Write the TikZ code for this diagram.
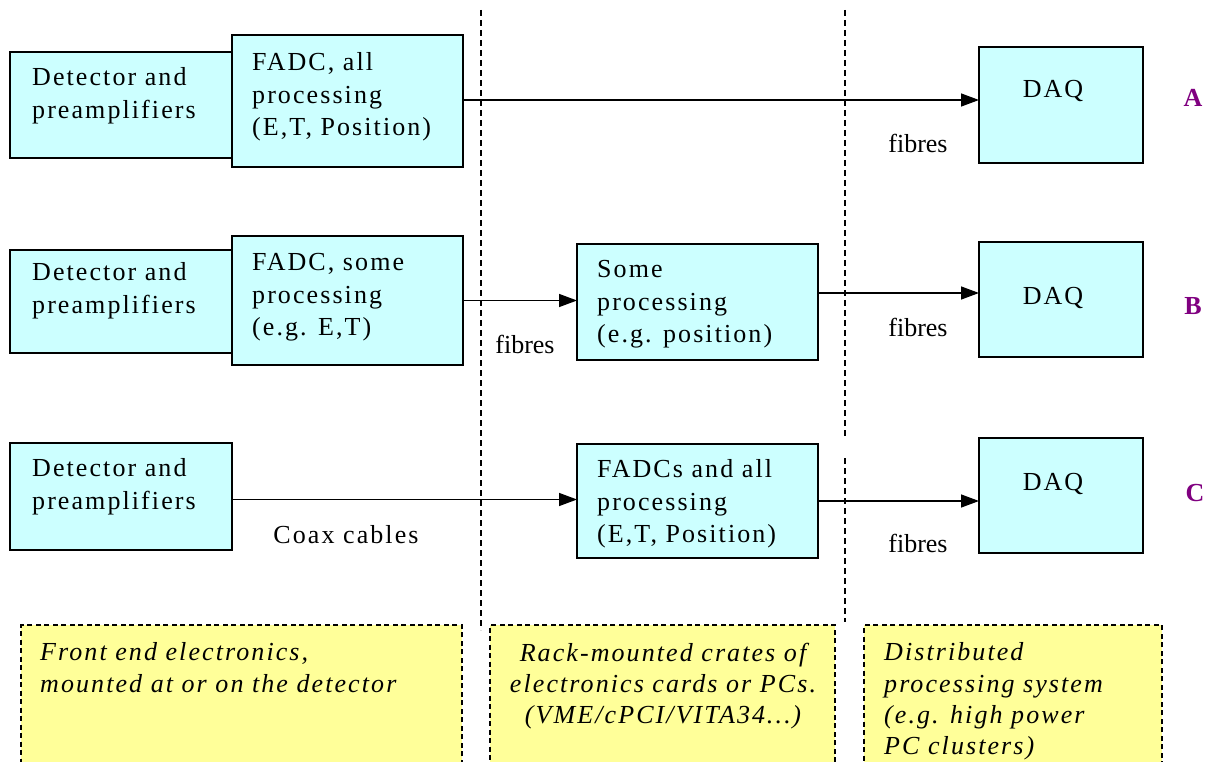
\documentclass[tikz,border=0pt]{standalone}
\usepackage{fontspec}
\setmainfont{Liberation Serif}
\newfontfamily\spaced{Liberation Serif}[LetterSpace=8]
\usetikzlibrary{arrows.meta}
\definecolor{boxcyan}{RGB}{204,255,255}
\definecolor{noteyellow}{RGB}{255,255,153}
\definecolor{rowpurple}{RGB}{128,0,128}
\begin{document}
\begin{tikzpicture}[x=1pt,y=-1pt,
  box/.style={draw=black, line width=1.3pt, fill=boxcyan, inner sep=0pt, outer sep=0pt, anchor=north west},
  notebox/.style={draw=black, line width=1.2pt, dash pattern=on 5pt off 3.5pt, fill=noteyellow, inner sep=0pt, outer sep=0pt, anchor=north west},
  txt/.style={anchor=north west, inner sep=0pt, align=left, font=\spaced\fontsize{26}{32.5}\selectfont},
  notetxt/.style={anchor=north west, inner sep=0pt, align=left, font=\spaced\itshape\fontsize{26}{31.3}\selectfont},
  lbl/.style={inner sep=0pt, font=\fontsize{26}{30}\selectfont},
  rowlbl/.style={inner sep=0pt, text=rowpurple, font=\bfseries\fontsize{26}{30}\selectfont},
  sep/.style={draw=black, line width=1.2pt, dash pattern=on 6pt off 4pt},
  arr/.style={draw=black, line width=1.4pt, -{Triangle[length=18pt, width=13pt]}}]
\useasboundingbox (0,0) rectangle (1211,762);
% separators
\coordinate (s1t) at (481,10);
\coordinate (s1b) at (481,630);
\coordinate (s2t) at (845,10);
\coordinate (s2m) at (845,438);
\coordinate (s2n) at (845,458);
\coordinate (s2b) at (845,622);
\draw[sep] (s1t) -- (s1b);
\draw[sep] (s2t) -- (s2m);
\draw[sep] (s2n) -- (s2b);
% row A
\node[box, minimum width=222, minimum height=106] (detA) at (10,52) {};
\node[box, minimum width=231, minimum height=132] (fadcA) at (232,35) {};
\node[box, minimum width=164, minimum height=116] (daqA) at (979,47) {};
\node[txt] (detAt) at (32,67.5) {Detector and\\preamplifiers};
\node[txt] (fadcAt) at (252,52.5) {FADC, all\\processing\\(E,T, Position)};
\node[txt, anchor=center] (daqAt) at (1053,91) {DAQ};
\node[lbl] (fibA) at (918,143) {fibres};
\node[rowlbl] (rowA) at (1193,98) {A};
\draw[arr] ([yshift=1pt]fadcA.east) -- ([yshift=1pt]fadcA.east -| daqA.west);
% row B
\node[box, minimum width=222, minimum height=103] (detB) at (10,250) {};
\node[box, minimum width=231, minimum height=129] (fadcB) at (232,236) {};
\node[box, minimum width=241, minimum height=116] (someB) at (577,244) {};
\node[box, minimum width=164, minimum height=115] (daqB) at (979,242) {};
\node[txt] (detBt) at (32,262.5) {Detector and\\preamplifiers};
\node[txt] (fadcBt) at (252,253.5) {FADC, some\\processing\\(e.g. E,T)};
\node[txt] (someBt) at (597,260.5) {Some\\processing\\(e.g. position)};
\node[txt, anchor=center] (daqBt) at (1053,298) {DAQ};
\node[lbl] (fibB1) at (525,344) {fibres};
\node[lbl] (fibB2) at (918,327) {fibres};
\node[rowlbl] (rowB) at (1193,306) {B};
\draw[arr] (fadcB.east) -- (fadcB.east -| someB.west);
\draw[arr] ([yshift=9pt]someB.east) -- ([yshift=9pt]someB.east -| daqB.west);
% row C
\node[box, minimum width=222, minimum height=107] (detC) at (10,443) {};
\node[box, minimum width=241, minimum height=114] (fadcC) at (577,444) {};
\node[box, minimum width=164, minimum height=115] (daqC) at (979,438) {};
\node[txt] (detCt) at (32,458.5) {Detector and\\preamplifiers};
\node[txt] (fadcCt) at (597,459.5) {FADCs and all\\processing\\(E,T, Position)};
\node[txt, anchor=center] (daqCt) at (1053,484) {DAQ};
\node[txt, anchor=center] (coax) at (346,535) {Coax cables};
\node[lbl] (fibC) at (918,543) {fibres};
\node[rowlbl] (rowC) at (1195,493) {C};
\draw[arr] ([yshift=-3pt]detC.east) -- ([yshift=-3pt]detC.east -| fadcC.west);
\draw[arr] (fadcC.east) -- (fadcC.east -| daqC.west);
% notes
\node[notebox, minimum width=441, minimum height=200] (n1) at (21,625) {};
\node[notebox, minimum width=345, minimum height=200] (n2) at (490,625) {};
\node[notebox, minimum width=298, minimum height=200] (n3) at (864,625) {};
\node[notetxt] (n1t) at (40,642.5) {Front end electronics,\\mounted at or on the detector};
\node[notetxt, anchor=north, align=center] (n2t) at (663,642.5) {Rack-mounted crates of\\electronics cards or PCs.\\(VME/cPCI/VITA34…)};
\node[notetxt] (n3t) at (884,642.5) {Distributed\\processing system\\(e.g. high power\\PC clusters)};
\end{tikzpicture}
\end{document}
